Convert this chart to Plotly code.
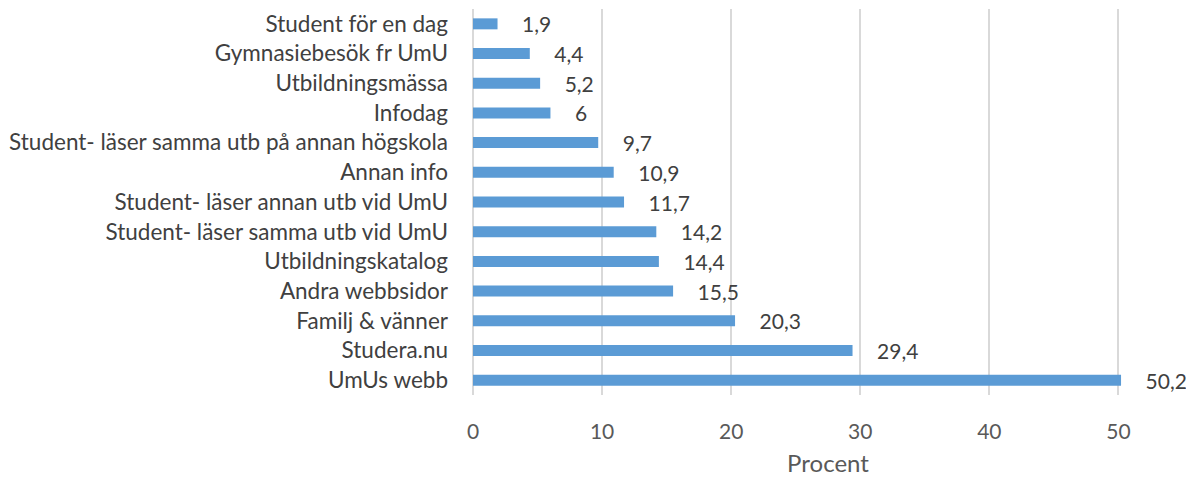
import plotly.graph_objects as go

categories = ["Student för en dag", "Gymnasiebesök fr UmU", "Utbildningsmässa", "Infodag",
              "Student- läser samma utb på annan högskola", "Annan info",
              "Student- läser annan utb vid UmU", "Student- läser samma utb vid UmU",
              "Utbildningskatalog", "Andra webbsidor", "Familj & vänner", "Studera.nu", "UmUs webb"]
values = [1.9, 4.4, 5.2, 6, 9.7, 10.9, 11.7, 14.2, 14.4, 15.5, 20.3, 29.4, 50.2]
x_ticks = [0, 10, 20, 30, 40, 50]

labels = ["\u00a0\u00a0\u00a0\u00a0" + (f"{v:g}".replace(".", ",")) for v in values]

font_family = "Lato, 'Open Sans', sans-serif"
grey = "#595959"

fig = go.Figure(go.Bar(
    y=categories, x=values, orientation="h",
    marker=dict(color="#5B9BD5", line=dict(width=0)),
    width=0.37,
    text=labels, textposition="outside", cliponaxis=False, constraintext="none",
    textfont=dict(family=font_family, size=21, color="#404040"),
))

fig.update_layout(
    width=1178, height=469,
    margin=dict(l=465, r=3, t=1, b=82, autoexpand=False),
    paper_bgcolor="white", plot_bgcolor="white",
    showlegend=False,
    font=dict(family=font_family, color=grey),
    xaxis=dict(range=[0, 55], tickvals=x_ticks, showgrid=True, gridcolor="#D9D9D9", gridwidth=1.5,
               zeroline=True, zerolinecolor="#D9D9D9", zerolinewidth=1.5, showline=False,
               automargin=False,
               tickfont=dict(size=21, color=grey), ticklabelstandoff=22,
               title=dict(text="Procent", font=dict(size=24, color=grey), standoff=21)),
    yaxis=dict(autorange="reversed", showgrid=False, showline=False, zeroline=False,
               automargin=False,
               tickfont=dict(size=22.5, color="#404040"), ticklabelstandoff=24),
)

fig.write_html("out.html")
